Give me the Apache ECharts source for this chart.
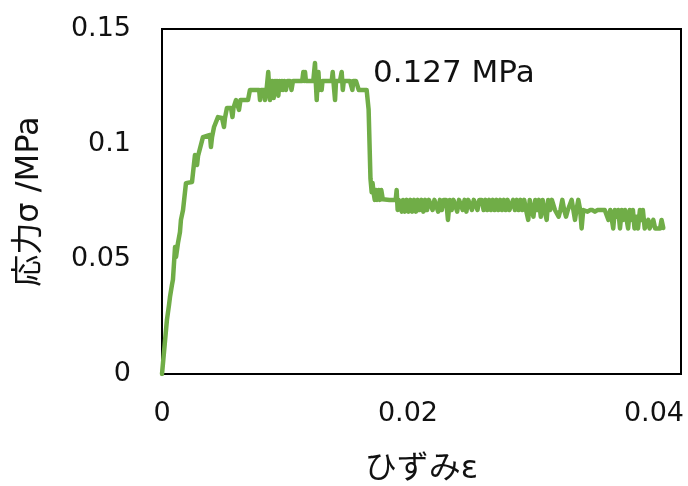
<!DOCTYPE html>
<html>
<head>
<meta charset="utf-8">
<script src="https://cdn.jsdelivr.net/npm/echarts@6/dist/echarts.min.js"></script>
<style>html,body{margin:0;padding:0;background:#fff}#c{width:688px;height:486px}</style>
</head>
<body>
<div id="c"></div>
<script>
const xTicks = [0, 0.02, 0.04];
const yTicks = [0, 0.05, 0.1, 0.15];
const xName = 'ひずみε';
const yName = '応力σ /MPa';
const peakLabel = '0.127 MPa';

const strain = [
0, 0.00016, 0.0004, 0.00057, 0.00065, 0.00081, 0.00089, 0.00106, 0.00114, 0.00122,
0.0013, 0.00146, 0.00154, 0.00163, 0.00171, 0.00179, 0.00195, 0.00211, 0.00244, 0.00268,
0.00277, 0.00285, 0.00293, 0.00309, 0.00333, 0.0039, 0.00398, 0.00407, 0.00423, 0.00439,
0.00455, 0.00488, 0.00504, 0.00512, 0.00528, 0.00561, 0.00573, 0.00581, 0.00602, 0.00618,
0.00626, 0.00638, 0.00699, 0.00715,
0.00790, 0.00797, 0.00805, 0.00830, 0.00837, 0.00850, 0.00864, 0.00872, 0.00878, 0.00886,
0.00892, 0.00900, 0.00908, 0.00919, 0.00927, 0.00935, 0.00946, 0.00955, 0.00965, 0.00975,
0.00984, 0.00995, 0.01008, 0.01020, 0.01041, 0.01053, 0.01065, 0.01095, 0.01105, 0.01122,
0.01140, 0.01149, 0.01156, 0.01163, 0.01170, 0.01230, 0.01237, 0.01244, 0.01250, 0.01258,
0.01265, 0.01272, 0.01280, 0.01285, 0.01298, 0.01305, 0.01339, 0.01380, 0.01388, 0.01400,
0.01407, 0.01415, 0.01447, 0.01461, 0.01470, 0.01478, 0.01528, 0.01540, 0.01548, 0.01555,
0.01577, 0.01590, 0.01600, 0.01664,
0.01680, 0.01695, 0.01705, 0.01712, 0.01720, 0.01730, 0.01740, 0.01750, 0.01762, 0.01772,
0.01783, 0.01795, 0.01850, 0.01900, 0.01908, 0.01916, 0.01925, 0.01940, 0.01950, 0.01960,
0.01975, 0.01990, 0.02005, 0.02020, 0.02035, 0.02050, 0.02065, 0.02080, 0.02095, 0.02110,
0.02125, 0.02140, 0.02155, 0.02170, 0.02185, 0.02200, 0.02215, 0.02230, 0.02245, 0.02260,
0.02275, 0.02290, 0.02310, 0.02325, 0.02340, 0.02355, 0.02370, 0.02385, 0.02400, 0.02415,
0.02430, 0.02445, 0.02460, 0.02475, 0.02490, 0.02505, 0.02520, 0.02535, 0.02550, 0.02565,
0.02580, 0.02600, 0.02615, 0.02630, 0.02645, 0.02660, 0.02675, 0.02690, 0.02705, 0.02720,
0.02735, 0.02750, 0.02765, 0.02780, 0.02795, 0.02810, 0.02825, 0.02840, 0.02855, 0.02870,
0.02885, 0.02900, 0.02915, 0.02930, 0.02945, 0.02960, 0.02978, 0.02990, 0.03005, 0.03020,
0.03035, 0.03050, 0.03065, 0.03080, 0.03095, 0.03110, 0.03128, 0.03140, 0.03155, 0.03170,
0.03180, 0.03195, 0.03210, 0.03225, 0.03240, 0.03255, 0.03270, 0.03285, 0.03300, 0.03315,
0.03331, 0.03345, 0.03358, 0.03370, 0.03385, 0.03400, 0.03412, 0.03425, 0.03440, 0.03460,
0.03480, 0.03500, 0.03520, 0.03540, 0.03560, 0.03580, 0.03600, 0.03615, 0.03630, 0.03645,
0.03660, 0.03669, 0.03682, 0.03695, 0.03710, 0.03724, 0.03738, 0.03752, 0.03765, 0.03778,
0.03790, 0.03803, 0.03816, 0.03829, 0.03842, 0.03855, 0.03870, 0.03886, 0.03900, 0.03910,
0.03925, 0.03940, 0.03954, 0.03965, 0.03980, 0.03995, 0.04010, 0.04030, 0.04050, 0.04062,
0.04076
];

const stress = [
0, 0, 0.0235, 0.030, 0.0335, 0.0387, 0.041, 0.0552, 0.0509, 0.0513,
0.057, 0.0617, 0.067, 0.0665, 0.0713, 0.0713, 0.083, 0.0835, 0.0835, 0.0952,
0.0948, 0.0909, 0.0948, 0.0952, 0.103, 0.1039, 0.0987, 0.103, 0.1074, 0.107,
0.1117, 0.1113, 0.1074, 0.1113, 0.1157, 0.1157, 0.1117, 0.1157, 0.1191, 0.1191,
0.1148, 0.1191, 0.1191, 0.1235,
0.1235, 0.1191, 0.1235, 0.1235, 0.1191, 0.1235, 0.1313, 0.1235, 0.1191, 0.1274,
0.1235, 0.1274, 0.1200, 0.1274, 0.1235, 0.1274, 0.1210, 0.1274, 0.1235, 0.1274,
0.1235, 0.1274, 0.1235, 0.1274, 0.1274, 0.1235, 0.1274, 0.1274, 0.1274, 0.1274,
0.1274, 0.1313, 0.1274, 0.1313, 0.1274, 0.1274, 0.1313, 0.1352, 0.1274, 0.1191,
0.1274, 0.1313, 0.1235, 0.1274, 0.1235, 0.1274, 0.1274, 0.1274, 0.1313, 0.1235,
0.1191, 0.1274, 0.1274, 0.1313, 0.1235, 0.1274, 0.1274, 0.1274, 0.1235, 0.1274,
0.1274, 0.1274, 0.1235, 0.1235,
0.1150, 0.0850, 0.0790, 0.0830, 0.0790, 0.0757, 0.0800, 0.0757, 0.0800, 0.0757,
0.0800, 0.0760, 0.0757, 0.0757, 0.0800, 0.0713, 0.0757, 0.0757, 0.0706, 0.0757,
0.0706, 0.0757, 0.0706, 0.0757, 0.0706, 0.0757, 0.0706, 0.0757, 0.0713, 0.0757,
0.0706, 0.0757, 0.0713, 0.0757, 0.0757, 0.0713, 0.0757, 0.0757, 0.0706, 0.0757,
0.0713, 0.0757, 0.0757, 0.0670, 0.0757, 0.0713, 0.0757, 0.0757, 0.0706, 0.0757,
0.0757, 0.0713, 0.0757, 0.0706, 0.0757, 0.0757, 0.0713, 0.0757, 0.0757, 0.0713,
0.0757, 0.0757, 0.0713, 0.0757, 0.0713, 0.0757, 0.0713, 0.0757, 0.0713, 0.0757,
0.0713, 0.0757, 0.0713, 0.0757, 0.0713, 0.0757, 0.0713, 0.0713, 0.0757, 0.0713,
0.0757, 0.0713, 0.0757, 0.0713, 0.0757, 0.0713, 0.0670, 0.0757, 0.0713, 0.0684,
0.0757, 0.0713, 0.0757, 0.0684, 0.0757, 0.0713, 0.0670, 0.0757, 0.0713, 0.0757,
0.0760, 0.0713, 0.0713, 0.0684, 0.0713, 0.0757, 0.0713, 0.0684, 0.0713, 0.0713,
0.0757, 0.0713, 0.0670, 0.0713, 0.0757, 0.0713, 0.0633, 0.0713, 0.0713, 0.0706,
0.0713, 0.0713, 0.0706, 0.0713, 0.0713, 0.0713, 0.0713, 0.0713, 0.0670, 0.0713,
0.0713, 0.0633, 0.0713, 0.0684, 0.0713, 0.0633, 0.0713, 0.0670, 0.0713, 0.0713,
0.0633, 0.0713, 0.0670, 0.0713, 0.0633, 0.0684, 0.0633, 0.0713, 0.0670, 0.0713,
0.0633, 0.0633, 0.0670, 0.0633, 0.0633, 0.0670, 0.0633, 0.0633, 0.0633, 0.0670,
0.0635
];

const points = strain.map((s, i) => [s, stress[i]]);

const chart = echarts.init(document.getElementById('c'), null, {renderer: 'canvas'});
const tickFont = {fontFamily: 'DejaVu Sans', fontSize: 27, color: '#111'};
const nameFont = {fontFamily: "'DejaVu Sans', 'Noto Sans CJK JP'", fontSize: 32, color: '#111'};
chart.setOption({
  animation: false,
  backgroundColor: '#fff',
  grid: {left: 162, right: 7, top: 29, bottom: 112, show: true, borderColor: '#000', borderWidth: 2,
    backgroundColor: 'transparent', outerBoundsMode: 'none', containLabel: false},
  xAxis: {
    type: 'value', min: 0, max: 0.0422, interval: 0.02,
    name: xName, nameLocation: 'middle', nameGap: 80, nameTextStyle: nameFont,
    axisLine: {show: false}, axisTick: {show: false}, splitLine: {show: false},
    axisLabel: Object.assign({margin: 26, showMaxLabel: false,
      formatter: v => xTicks.some(t => Math.abs(t - v) < 1e-9) ? String(+v.toFixed(3)) : ''}, tickFont)
  },
  yAxis: {
    type: 'value', min: 0, max: 0.15, interval: 0.05,
    name: yName, nameLocation: 'middle', nameGap: 116, nameTextStyle: nameFont,
    axisLine: {show: false}, axisTick: {show: false}, splitLine: {show: false},
    axisLabel: Object.assign({margin: 31, padding: [0, 0, 8, 0],
      formatter: v => String(+v.toFixed(3))}, tickFont)
  },
  series: [{
    type: 'line', data: points, showSymbol: false, smooth: false,
    lineStyle: {color: '#70AD47', width: 4.5, join: 'round', cap: 'round'}, itemStyle: {color: '#70AD47'}
  }],
  graphic: [{
    type: 'text', left: 373, top: 58,
    style: {text: peakLabel, font: '31px "DejaVu Sans"', fill: '#111'}
  }]
});
</script>
</body>
</html>
